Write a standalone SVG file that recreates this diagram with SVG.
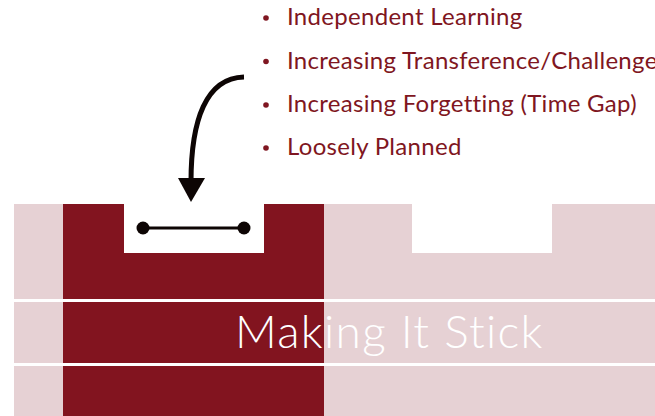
<svg xmlns="http://www.w3.org/2000/svg" width="655" height="416" viewBox="0 0 655 416">
<style>
.bl{font-family:Lato,"Open Sans",sans-serif;font-size:24px;letter-spacing:0.3px;fill:#7f1621;font-variant-ligatures:none}
.dot{fill:#7f1621}
.pink{fill:#e6d1d4}
.red{fill:#82141f}
</style>
<rect width="655" height="416" fill="#ffffff"/>
<g id="blocks">
<rect class="pink" x="14" y="204" width="641" height="212"/>
<rect class="red" x="63" y="204" width="261" height="212"/>
<rect fill="#ffffff" x="124" y="204" width="140" height="49"/>
<rect fill="#ffffff" x="412" y="204" width="140" height="49"/>
<rect fill="#ffffff" x="14" y="299" width="641" height="3"/>
<rect fill="#ffffff" x="14" y="363" width="641" height="3"/>
</g>
<g id="title">
<text x="235" y="348" font-family="Lato,'Open Sans',sans-serif" font-weight="300" font-size="46" letter-spacing="1.3" fill="#ffffff">Making It Stick</text>
</g>
<g id="dumbbell">
<line x1="143" y1="228" x2="244" y2="228" stroke="#0d0504" stroke-width="3"/>
<circle cx="143" cy="228" r="6.5" fill="#0d0504"/>
<circle cx="244" cy="228" r="6.5" fill="#0d0504"/>
</g>
<g id="connectors">
<path d="M244,77 C206,78 191,120 191,182" fill="none" stroke="#0d0504" stroke-width="5"/>
<polygon points="178,178 205,178 191,202" fill="#0d0504"/>
</g>
<g id="list">
<circle class="dot" cx="266" cy="18" r="2.8"/>
<text class="bl" x="287" y="25">Independent Learning</text>
<circle class="dot" cx="266" cy="61.5" r="2.8"/>
<text class="bl" x="287" y="69">Increasing Transference/Challenge</text>
<circle class="dot" cx="266" cy="105" r="2.8"/>
<text class="bl" x="287" y="112">Increasing Forgetting (Time Gap)</text>
<circle class="dot" cx="266" cy="148" r="2.8"/>
<text class="bl" x="287" y="155">Loosely Planned</text>
</g>
</svg>
